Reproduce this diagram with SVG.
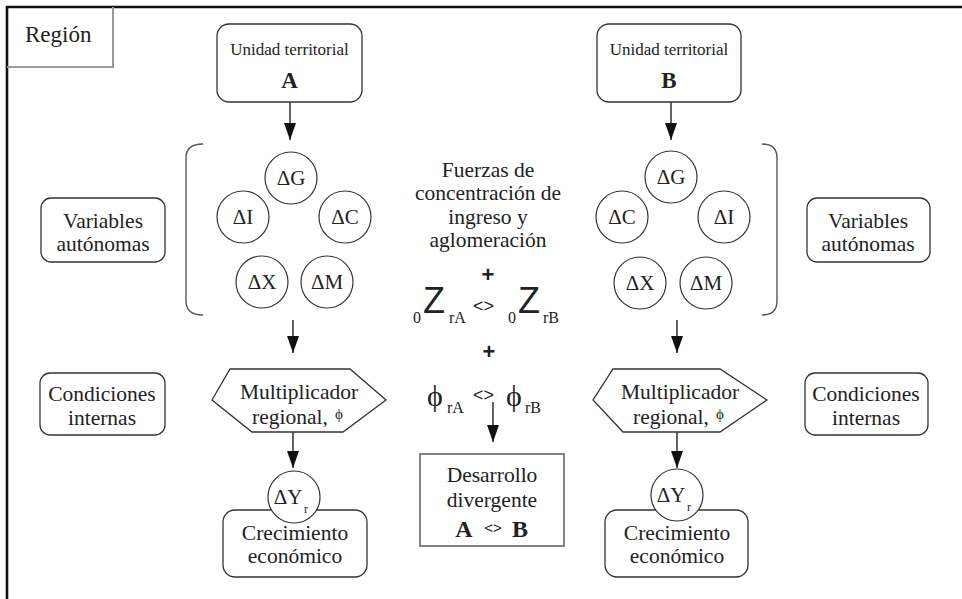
<svg xmlns="http://www.w3.org/2000/svg" width="962" height="599" viewBox="0 0 962 599" font-family="'Liberation Serif', 'Times New Roman', 'DejaVu Serif', serif">
<style>
text{font-family:'Liberation Serif','Times New Roman','DejaVu Serif',serif;fill:#222}
.t{font-size:21.5px;text-anchor:middle}
.s{font-size:17px;text-anchor:middle}
.bold{font-weight:bold}
text.sans,tspan.sans{font-family:'Liberation Sans','DejaVu Sans',sans-serif}
.box{fill:#fff;stroke:#333;stroke-width:1.3}
.circ{fill:#fff;stroke:#333;stroke-width:1.2}
.cl{font-size:21px;text-anchor:middle}
.sub{font-size:16px}
.conn{stroke:#111;stroke-width:1.3;fill:none}
.brk{stroke:#555;stroke-width:1.4;fill:none}
</style>
<defs>
<marker id="ah" markerUnits="userSpaceOnUse" viewBox="0 0 17 12" refX="17" refY="6" markerWidth="17" markerHeight="12" orient="auto">
<path d="M0,0 L17,6 L0,12 z" fill="#111"/>
</marker>
</defs>
<rect width="962" height="599" fill="#fff"/>
<g id="frame">
<path d="M7,599 L7,7 L962,7" fill="none" stroke="#111" stroke-width="2.6"/>
</g>
<g id="region">
<path d="M113,7 L113,67 L7,67" fill="none" stroke="#999" stroke-width="2"/>
<text x="25" y="42" style="font-size:23px">Región</text>
</g>
<g id="connectors">
<line class="conn" x1="290" y1="102" x2="290" y2="140" marker-end="url(#ah)"/>
<line class="conn" x1="671" y1="102" x2="671" y2="140" marker-end="url(#ah)"/>
<line class="conn" x1="293" y1="320" x2="293" y2="353" marker-end="url(#ah)"/>
<line class="conn" x1="677" y1="320" x2="677" y2="353" marker-end="url(#ah)"/>
<line class="conn" x1="293" y1="432" x2="293" y2="468" marker-end="url(#ah)"/>
<line class="conn" x1="677" y1="432" x2="677" y2="468" marker-end="url(#ah)"/>
<line class="conn" x1="493" y1="402" x2="493" y2="442" marker-end="url(#ah)"/>
<path class="brk" d="M203,144 Q186,144 186,158 L186,301 Q186,315 203,315"/>
<path class="brk" d="M762,144 Q777,144 777,158 L777,301 Q777,315 762,315"/>
</g>
<g id="unidadA">
<rect class="box" x="217" y="24" width="145" height="78" rx="12"/>
<text class="s" x="289.5" y="55">Unidad territorial</text>
<text class="t bold" x="289.5" y="88" style="font-size:23px">A</text>
</g>
<g id="unidadB">
<rect class="box" x="597" y="24" width="144" height="78" rx="12"/>
<text class="s" x="669" y="55">Unidad territorial</text>
<text class="t bold" x="669" y="88" style="font-size:23px">B</text>
</g>
<g id="varA">
<circle class="circ" cx="291" cy="178" r="26"/><text class="cl" x="291" y="185">ΔG</text>
<circle class="circ" cx="243" cy="217" r="26"/><text class="cl" x="243" y="224">ΔI</text>
<circle class="circ" cx="345" cy="217" r="26"/><text class="cl" x="345" y="224">ΔC</text>
<circle class="circ" cx="262" cy="282" r="26"/><text class="cl" x="262" y="289">ΔX</text>
<circle class="circ" cx="327" cy="282" r="26"/><text class="cl" x="327" y="289">ΔM</text>
</g>
<g id="varB">
<circle class="circ" cx="671" cy="177" r="26"/><text class="cl" x="671" y="184">ΔG</text>
<circle class="circ" cx="622" cy="217" r="26"/><text class="cl" x="622" y="224">ΔC</text>
<circle class="circ" cx="724" cy="217" r="26"/><text class="cl" x="724" y="224">ΔI</text>
<circle class="circ" cx="640" cy="283" r="26"/><text class="cl" x="640" y="290">ΔX</text>
<circle class="circ" cx="706" cy="283" r="26"/><text class="cl" x="706" y="290">ΔM</text>
</g>
<g id="varAutL">
<rect class="box" x="41" y="198" width="124" height="64" rx="10"/>
<text class="t" x="103" y="228">Variables</text>
<text class="t" x="103" y="251">autónomas</text>
</g>
<g id="varAutR">
<rect class="box" x="807" y="198" width="123" height="64" rx="10"/>
<text class="t" x="868" y="228">Variables</text>
<text class="t" x="868" y="251">autónomas</text>
</g>
<g id="condL">
<rect class="box" x="40" y="373" width="125" height="62" rx="10"/>
<text class="t" x="102" y="401">Condiciones</text>
<text class="t" x="102" y="425">internas</text>
</g>
<g id="condR">
<rect class="box" x="805" y="373" width="123" height="62" rx="10"/>
<text class="t" x="866" y="401">Condiciones</text>
<text class="t" x="866" y="425">internas</text>
</g>
<g id="multA">
<polygon class="box" points="230,369 350,369 386,400 343,432 252,432 212,400"/>
<text class="t" x="299" y="399">Multiplicador</text>
<text class="t" x="290" y="424">regional,</text>
<text x="335" y="419" style="font-size:15px">ϕ</text>
</g>
<g id="multB">
<polygon class="box" points="613,369 720,369 767,400 720,432 623,432 593,400"/>
<text class="t" x="680" y="399">Multiplicador</text>
<text class="t" x="671" y="424">regional,</text>
<text x="716" y="419" style="font-size:15px">ϕ</text>
</g>
<g id="crecA">
<rect class="box" x="223" y="510" width="144" height="67" rx="12"/>
<text class="t" x="295" y="540">Crecimiento</text>
<text class="t" x="295" y="563">económico</text>
<circle class="circ" cx="294" cy="497" r="26"/>
<text x="288" y="504" style="font-size:21px;text-anchor:middle">ΔY</text>
<text x="304" y="513" style="font-size:12px">r</text>
</g>
<g id="crecB">
<rect class="box" x="605" y="510" width="143" height="67" rx="12"/>
<text class="t" x="677" y="540">Crecimiento</text>
<text class="t" x="677" y="563">económico</text>
<circle class="circ" cx="677" cy="495" r="26"/>
<text x="671" y="502" style="font-size:21px;text-anchor:middle">ΔY</text>
<text x="687" y="511" style="font-size:12px">r</text>
</g>
<g id="fuerzas">
<text class="t" x="488" y="177">Fuerzas de</text>
<text class="t" x="488" y="200">concentración de</text>
<text class="t" x="488" y="224">ingreso y</text>
<text class="t" x="488" y="247">aglomeración</text>
<text class="sans bold" x="488" y="282" style="font-size:22px;text-anchor:middle">+</text>
<text class="sub" x="413" y="323">0</text>
<text class="sans" x="423" y="313" style="font-size:36px">Z</text>
<text class="sub" x="449" y="323">rA</text>
<text class="sans" x="473" y="312" style="font-size:18px">&lt;&gt;</text>
<text class="sub" x="508" y="323">0</text>
<text class="sans" x="518" y="313" style="font-size:36px">Z</text>
<text class="sub" x="543" y="323">rB</text>
<text class="sans bold" x="489" y="359" style="font-size:22px;text-anchor:middle">+</text>
<text x="427" y="406" style="font-size:30px">ϕ</text>
<text class="sub" x="447" y="413">rA</text>
<text class="sans" x="473" y="401" style="font-size:18px">&lt;&gt;</text>
<text x="506" y="406" style="font-size:30px">ϕ</text>
<text class="sub" x="525" y="413">rB</text>
</g>
<g id="desarrollo">
<rect x="420" y="454" width="144" height="92" fill="#fff" stroke="#666" stroke-width="1.6"/>
<text class="t" x="492" y="482">Desarrollo</text>
<text class="t" x="492" y="507">divergente</text>
<text x="464" y="537" style="text-anchor:middle;font-size:24px;font-weight:bold">A</text>
<text class="sans" x="493" y="533" style="text-anchor:middle;font-size:15px">&lt;&gt;</text>
<text x="520" y="537" style="text-anchor:middle;font-size:24px;font-weight:bold">B</text>
</g>
</svg>
